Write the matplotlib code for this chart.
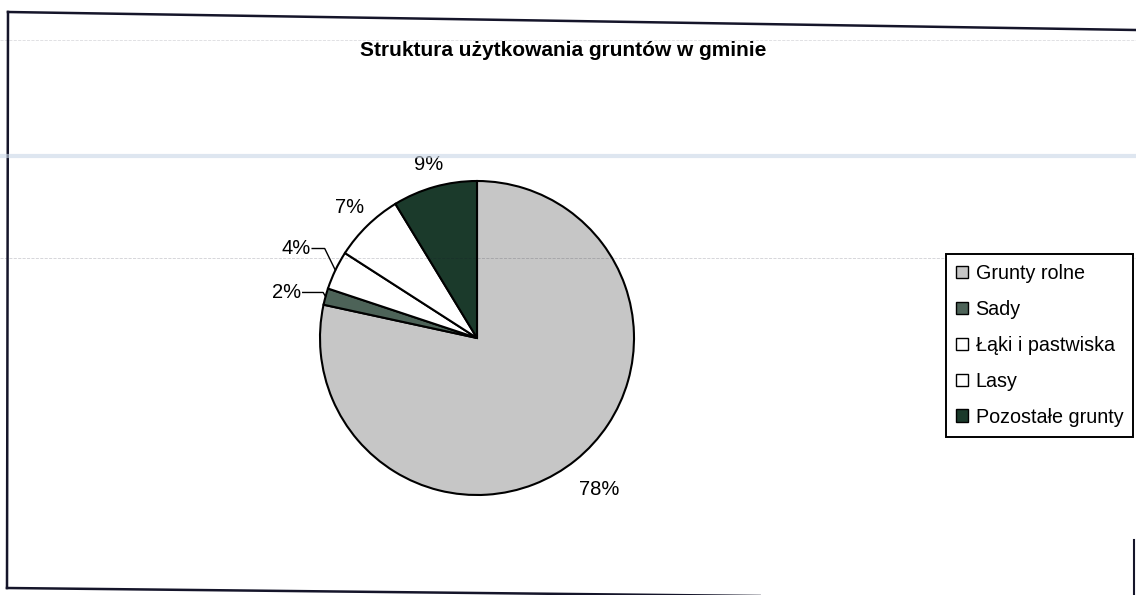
import numpy as np
from matplotlib import pyplot as plt
from matplotlib.lines import Line2D

plt.rcParams['font.family'] = ['Liberation Sans', 'DejaVu Sans']

title = 'Struktura użytkowania gruntów w gminie'
categories = ['Grunty rolne', 'Sady', 'Łąki i pastwiska', 'Lasy', 'Pozostałe grunty']
shares = [78.4, 1.7, 4.0, 7.2, 8.7]
colors = ['#c6c6c6', '#4d6358', '#ffffff', '#ffffff', '#1b3a2b']

W, H = 1136, 595
fig = plt.figure(figsize=(W / 100, H / 100), dpi=100)

# pie axes: centre (477, 338) px, radius 157 px
cx, cy, r = 477, 338, 157
ax = fig.add_axes([(cx - 1.5 * r) / W, (H - cy - 1.5 * r) / H, 3 * r / W, 3 * r / H])
wedges, _ = ax.pie(shares, colors=colors, startangle=90, counterclock=False,
                   wedgeprops=dict(edgecolor='black', linewidth=1.5))
ax.set_xlim(-1.5, 1.5)
ax.set_ylim(-1.5, 1.5)
ax.set_aspect('equal')
ax.axis('off')

# label radius per slice and which ones get a leader line
label_r = [1.24, 1.13, 1.13, 1.16, 1.15]
for i, w in enumerate(wedges):
    mid = np.deg2rad((w.theta1 + w.theta2) / 2)
    txt = '%.0f%%' % shares[i]
    ex, ey = np.cos(mid), np.sin(mid)
    if i in (1, 2):
        ky = 0.57 if i == 2 else 0.29
        kx = -0.97 if i == 2 else -0.98
        tx = -1.05 if i == 2 else -1.11
        ax.plot([tx, kx, ex], [ky, ky, ey], color='black', lw=1.0)
        ax.text(tx - 0.01, ky, txt, ha='right', va='center', fontsize=14.5)
    else:
        ax.text(label_r[i] * ex, label_r[i] * ey, txt, ha='center', va='center', fontsize=14.5)

fig.text(563 / W, 1 - 51 / H, title, ha='center', va='center', fontsize=15, fontweight='bold')

leg = fig.legend(wedges, categories, loc='upper left',
                 bbox_to_anchor=(946 / W, 1 - 254 / H), borderaxespad=0,
                 fontsize=14.2, fancybox=False, edgecolor='black', framealpha=1,
                 handlelength=0.6, handleheight=0.6, handletextpad=0.4,
                 labelspacing=0.86, borderpad=0.5)
leg.get_frame().set_linewidth(1.4)
for h in leg.legend_handles:
    h.set_linewidth(1.0)

# outer chart frame (slightly skewed scan)
def px_line(x0, y0, x1, y1, **kw):
    fig.add_artist(Line2D([x0 / W, x1 / W], [1 - y0 / H, 1 - y1 / H],
                          transform=fig.transFigure, color='#15152a', **kw))

px_line(8, 12, 1136, 30, lw=1.8)
px_line(8, 12, 7, 588, lw=1.8)
px_line(7, 588, 1136, 600, lw=1.8)
px_line(1134, 540, 1134, 595, lw=1.5)

# faint scan bands
fig.add_artist(Line2D([0, 1], [1 - 156 / H] * 2, transform=fig.transFigure,
                      color='#c9d6e6', lw=3, alpha=0.6))
px_line(0, 40, 1136, 40, lw=0.6, alpha=0.15, ls='--')
px_line(0, 258, 1136, 258, lw=0.6, alpha=0.2, ls='--')

fig.savefig('out.png', dpi=100)
